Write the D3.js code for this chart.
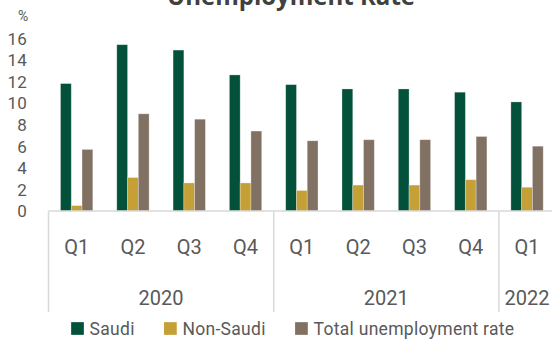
<!DOCTYPE html>
<html>
<head>
<meta charset="utf-8">
<script src="https://cdn.jsdelivr.net/npm/d3@7"></script>
<style>
  html, body { margin: 0; padding: 0; background: #ffffff; overflow: hidden; }
  svg { display: block; font-family: Roboto, "DejaVu Sans", sans-serif; }
</style>
</head>
<body>
<svg id="chart" width="552" height="339"></svg>
<script>
// Quarterly unemployment rate, %
const years = ["2020", "2021", "2022"];
const quarters = ["Q1", "Q2", "Q3", "Q4", "Q1", "Q2", "Q3", "Q4", "Q1"];
const quarterYears = ["2020", "2020", "2020", "2020", "2021", "2021", "2021", "2021", "2022"];
const saudi = [11.8, 15.4, 14.9, 12.6, 11.7, 11.3, 11.3, 11.0, 10.1];
const nonSaudi = [0.5, 3.1, 2.6, 2.6, 1.9, 2.4, 2.4, 2.9, 2.2];
const total = [5.7, 9.0, 8.5, 7.4, 6.5, 6.6, 6.6, 6.9, 6.0];
const seriesNames = ["Saudi", "Non-Saudi", "Total unemployment rate"];
const seriesColors = ["#03513a", "#c4a037", "#807163"];
const yTicks = [0, 2, 4, 6, 8, 10, 12, 14, 16];
const yUnit = "%";
const yMax = 18;

const series = [saudi, nonSaudi, total];
const keys = quarters.map((q, i) => quarterYears[i] + " " + q);

const svg = d3.select("#chart");
const plotLeft = 48.5, plotRight = 555.2, plotBase = 211, plotTop = 16.6;
const labelColor = "#595959";
const gridColor = "#d9d9d9";

const x = d3.scaleBand().domain(keys).range([plotLeft, plotRight]);
const bw = x.bandwidth();
const xs = d3.scaleBand().domain(d3.range(series.length)).range([bw * 0.213, bw * 0.787]);
const y = d3.scaleLinear().domain([0, yMax]).range([plotBase, plotTop]);

// title (runs off the top edge)
svg.append("text")
  .attr("x", 291).attr("y", 4.8)
  .attr("text-anchor", "middle")
  .attr("font-family", "'Open Sans', Roboto, sans-serif")
  .attr("font-weight", "bold")
  .attr("font-size", 25)
  .attr("textLength", 248)
  .attr("lengthAdjust", "spacingAndGlyphs")
  .attr("fill", "#404040")
  .text("Unemployment Rate");

// y axis labels
const yAxis = d3.axisLeft(y).tickValues(yTicks).tickSize(0).tickPadding(0).tickFormat(d3.format("d"));
const yg = svg.append("g").attr("transform", "translate(26.7,0.5)").call(yAxis);
yg.select(".domain").remove();
yg.selectAll("text").attr("font-size", 17).attr("fill", labelColor).attr("font-family", "Roboto");
svg.append("text")
  .attr("x", 28.3).attr("y", y(yMax) - 1).attr("dy", "0.35em")
  .attr("text-anchor", "end")
  .attr("font-size", 14).attr("fill", labelColor)
  .text(yUnit);

// bars
const groups = svg.append("g").selectAll("g")
  .data(keys).join("g")
  .attr("transform", d => `translate(${x(d)},0)`);
groups.selectAll("rect")
  .data((d, i) => series.map((s, j) => ({ j, v: s[i] })))
  .join("rect")
  .attr("x", d => xs(d.j))
  .attr("width", xs.bandwidth())
  .attr("y", d => y(d.v))
  .attr("height", d => plotBase - y(d.v))
  .attr("fill", d => seriesColors[d.j])
  .attr("stroke", "#ffffff")
  .attr("stroke-opacity", 0.35)
  .attr("stroke-width", 0.8);

// category axis line
svg.append("line")
  .attr("x1", plotLeft).attr("x2", plotRight)
  .attr("y1", plotBase).attr("y2", plotBase)
  .attr("stroke", gridColor).attr("stroke-width", 1.5);

// year separators
const yearBounds = [];
years.forEach(yr => {
  const idx = quarterYears.map((v, i) => v === yr ? i : -1).filter(i => i >= 0);
  yearBounds.push({ yr, x0: x(keys[idx[0]]), x1: x(keys[idx[idx.length - 1]]) + bw });
});
const seps = [plotLeft, ...yearBounds.map(b => b.x1)];
svg.append("g").selectAll("line")
  .data(seps).join("line")
  .attr("x1", d => d).attr("x2", d => d)
  .attr("y1", plotBase).attr("y2", 312)
  .attr("stroke", gridColor).attr("stroke-width", 1.5);

// quarter labels
svg.append("g").selectAll("text")
  .data(keys).join("text")
  .attr("x", d => x(d) + bw / 2)
  .attr("y", 247).attr("dy", "0.35em")
  .attr("text-anchor", "middle")
  .attr("font-size", 20).attr("fill", labelColor)
  .text((d, i) => quarters[i]);

// year labels
svg.append("g").selectAll("text")
  .data(yearBounds).join("text")
  .attr("x", d => (d.x0 + d.x1) / 2)
  .attr("y", 297.5).attr("dy", "0.35em")
  .attr("text-anchor", "middle")
  .attr("font-size", 20).attr("fill", labelColor)
  .text(d => d.yr);

// legend
const lg = svg.append("g");
const sq = 12.7, gap = 5.7, itemGap = 29.3;
const items = seriesNames.map((name, i) => {
  const g = lg.append("g");
  g.append("rect").attr("width", sq).attr("height", sq).attr("y", -sq / 2).attr("fill", seriesColors[i]);
  const t = g.append("text").attr("x", sq + gap).attr("dy", "0.35em")
    .attr("font-size", 17.5).attr("letter-spacing", 0.3).attr("fill", labelColor).text(name);
  return { g, w: sq + gap + t.node().getComputedTextLength() };
});
const totalW = d3.sum(items, d => d.w) + itemGap * (items.length - 1);
let cx = 292.8 - totalW / 2;
items.forEach(it => {
  it.g.attr("transform", `translate(${cx},328.5)`);
  cx += it.w + itemGap;
});
</script>
</body>
</html>
